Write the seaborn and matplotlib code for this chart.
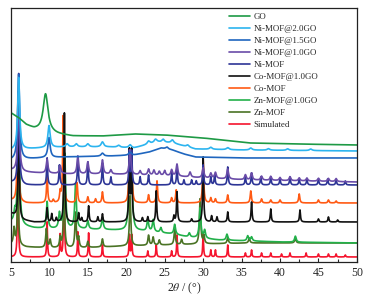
import numpy as np
import pandas as pd
import seaborn as sns
import matplotlib.pyplot as plt
from matplotlib.ticker import MultipleLocator

# XRD patterns (intensity in arbitrary stacked units)
# background anchor points: (2theta, level); peaks: (2theta, height[, fwhm])
go_bg = [(5, 149), (6, 144), (7, 137), (8, 133), (9, 131), (11, 128), (13, 126), (17, 126),
         (21, 128), (25, 127), (30, 124), (36, 119), (42, 118), (50, 117)]
go_peaks = [(9.5, 38, 0.75)]

ni20_bg = [(5, 112), (9, 114), (12, 115), (18, 115), (21, 114), (22.5, 117), (24, 120), (26, 119),
           (27.5, 116), (29, 113), (35, 112), (50, 111)]
ni20_peaks = [(6.0, 72, 0.3), (9.95, 22, 0.35), (12.3, 3), (13.5, 3), (15.0, 3), (16.9, 5), (19.0, 2),
              (20.5, 3), (22.9, 3), (23.8, 3), (24.8, 3), (26.0, 3), (28.0, 2), (31.0, 2), (33.2, 2),
              (36.2, 2), (38.5, 1.5), (41.0, 1.5), (44.0, 1.5)]

ni15_bg = [(5, 102), (9, 104), (12, 105), (18, 106), (21, 107), (23, 110), (24.5, 114), (26, 112),
           (27.5, 108), (29, 105), (35, 104), (50, 104)]
ni15_peaks = [(6.0, 85, 0.3), (9.95, 20, 0.35), (16.9, 3), (20.5, 3), (25.3, 2)]

ni10_bg = [(5, 92), (6.5, 90), (9, 89), (13, 88), (18, 88), (22, 87), (26, 86), (30, 84), (36, 82), (50, 80)]
ni10_peaks = [(6.0, 80), (9.7, 14), (11.4, 8), (13.7, 18), (15.0, 12), (16.9, 14), (18.0, 4), (20.5, 25),
              (21.8, 4), (22.9, 6), (23.6, 5), (24.3, 4), (25.0, 5), (25.9, 6), (26.6, 12), (28.3, 5),
              (30.0, 10), (31.0, 5), (31.6, 6), (33.2, 10), (35.5, 5), (36.3, 7), (37.6, 4), (38.8, 4),
              (40.0, 3), (41.3, 4), (42.5, 3), (43.5, 3), (45.0, 3), (46.3, 3), (47.3, 3)]

nimof_bg = [(5, 80), (7, 77), (50, 77)]
nimof_peaks = [(6.0, 110, 0.2), (9.7, 27), (11.3, 20), (13.7, 28), (15.0, 23), (16.9, 22), (18.0, 8),
               (20.4, 33), (20.7, 33), (21.8, 8), (22.9, 10), (25.9, 12), (26.6, 18), (27.5, 5), (28.5, 5),
               (29.1, 4), (30.0, 20), (31.0, 8), (31.5, 10), (33.2, 18), (35.5, 8), (36.3, 12), (37.5, 8),
               (38.8, 8), (40.0, 6), (41.3, 8), (42.5, 6), (43.5, 6), (45.0, 6), (46.2, 6), (47.3, 5),
               (48.5, 4)]

co10_bg = [(5, 49), (6.5, 42), (8, 40), (50, 40)]
co10_peaks = [(6.0, 120), (9.7, 14), (10.3, 8), (10.9, 4), (11.95, 109), (13.8, 9), (14.2, 4), (15.1, 16),
              (16.3, 5), (16.9, 8), (20.4, 70), (20.7, 70), (22.1, 4), (22.8, 5), (23.9, 31), (26.2, 6),
              (26.6, 30), (28.5, 3), (30.0, 65), (31.1, 6), (31.8, 5), (33.2, 10), (36.3, 20), (38.8, 13),
              (42.6, 12), (45.0, 3), (46.3, 5), (47.5, 2)]

comof_bg = [(5, 62), (7, 59), (50, 59)]
comof_peaks = [(5.9, 110), (9.7, 26), (10.5, 3), (11.4, 10), (11.8, 87), (13.6, 20), (15.0, 6), (16.0, 4),
               (16.9, 11), (20.4, 45), (20.7, 45), (22.9, 8), (24.0, 22), (25.9, 5), (26.5, 13), (30.0, 45),
               (31.0, 5), (31.6, 4), (33.2, 8), (36.2, 12), (37.6, 4), (38.8, 3), (40.0, 3), (42.5, 9),
               (45.0, 3), (46.3, 3), (47.3, 2)]

zn10_bg = [(5, 40), (6.5, 36), (8, 34), (10, 33), (14, 33), (18, 32), (22, 31), (26, 28), (28, 25),
           (32, 22), (40, 20), (50, 19)]
zn10_peaks = [(5.5, 10), (6.0, 130), (9.7, 27), (11.3, 15), (12.0, 75), (13.4, 45), (15.0, 8), (16.9, 12),
              (20.4, 60), (20.7, 60), (22.8, 12), (23.5, 12), (24.5, 5), (26.3, 10), (28.2, 4), (29.6, 30),
              (30.2, 8), (33.1, 6), (35.8, 5), (36.3, 4), (42.0, 6)]

znmof_bg = [(5, 18), (7, 15), (10, 14), (14, 14), (20, 16), (25, 17), (30, 18), (36, 19), (50, 19)]
znmof_peaks = [(5.4, 16), (5.9, 60), (9.6, 19), (10.1, 8), (11.4, 10), (11.9, 60), (13.4, 35), (13.8, 10),
               (15.0, 6), (16.9, 8), (20.5, 50), (22.9, 10), (23.5, 8), (24.3, 5), (26.3, 15), (27.2, 5),
               (29.6, 45), (30.1, 8), (33.2, 6), (36.0, 5), (42.0, 5)]

sim_bg = [(5, 5), (50, 5)]
sim_peaks = [(5.9, 120), (9.7, 35), (11.4, 22), (11.9, 100), (13.7, 25), (15.1, 24), (16.9, 12), (20.4, 22),
             (20.7, 22), (22.8, 6), (23.9, 12), (25.9, 6), (26.6, 22), (30.0, 24), (31.0, 7), (31.6, 7),
             (33.2, 12), (35.5, 4), (36.3, 7), (37.6, 4), (38.8, 4), (40.2, 3), (41.3, 4), (43.4, 4),
             (45.0, 3), (46.3, 3), (47.3, 3), (48.5, 2)]

labels = ['GO', 'Ni-MOF@2.0GO', 'Ni-MOF@1.5GO', 'Ni-MOF@1.0GO', 'Ni-MOF',
          'Co-MOF@1.0GO', 'Co-MOF', 'Zn-MOF@1.0GO', 'Zn-MOF', 'Simulated']
colors = ['#1e9a45', '#2cb4ef', '#1f66bf', '#6a4ca8', '#2d3596',
          '#111111', '#ff5a14', '#22b04a', '#4a7325', '#f5142d']
series = [(go_bg, go_peaks, 0.4), (ni20_bg, ni20_peaks, 0.4), (ni15_bg, ni15_peaks, 0.4),
          (ni10_bg, ni10_peaks, 0.25), (nimof_bg, nimof_peaks, 0.15), (co10_bg, co10_peaks, 0.15),
          (comof_bg, comof_peaks, 0.18), (zn10_bg, zn10_peaks, 0.25), (znmof_bg, znmof_peaks, 0.2),
          (sim_bg, sim_peaks, 0.12)]

tt = np.arange(5, 50.001, 0.01)


def pattern(bg, peaks, w):
    y = np.interp(tt, [b[0] for b in bg], [b[1] for b in bg])
    for p in peaks:
        fw = p[2] if len(p) > 2 else w
        y = y + p[1] / (1 + ((tt - p[0]) / (fw / 2)) ** 2)
    return y


sns.set_style('ticks')
plt.rcParams['font.family'] = ['Liberation Serif', 'DejaVu Serif']
plt.rcParams['mathtext.fontset'] = 'stix'

fig = plt.figure(figsize=(3.66, 2.96), dpi=100)
ax = fig.add_axes([0.030, 0.115, 0.945, 0.858])

# draw bottom trace first so upper traces sit on top
for lab, col, (bg, pk, w) in reversed(list(zip(labels, colors, series))):
    df = pd.DataFrame({'2theta': tt, 'I': pattern(bg, pk, w)})
    sns.lineplot(data=df, x='2theta', y='I', color=col, lw=1.2, label=lab, ax=ax,
                 estimator=None, sort=False)

ax.set_xlim(5, 50)
ax.set_ylim(0, 254)
ax.set_yticks([])
ax.xaxis.set_major_locator(MultipleLocator(5))
ax.xaxis.set_minor_locator(MultipleLocator(2.5))
ax.tick_params(axis='x', which='major', direction='in', length=3, width=0.8, labelsize=8.5, pad=3.5)
ax.tick_params(axis='x', which='minor', direction='in', length=2, width=0.8)
ax.set_xlabel(r'2$\theta$ / (°)', fontsize=8.5, labelpad=1.5)
ax.set_ylabel('')
for s in ax.spines.values():
    s.set_linewidth(0.9)
    s.set_color('#222222')

h, l = ax.get_legend_handles_labels()
ax.legend(h[::-1], l[::-1], loc='upper left', bbox_to_anchor=(0.63, 0.98), frameon=False,
          fontsize=6.4, labelspacing=0.42, handlelength=2.4, handletextpad=0.35,
          borderpad=0, borderaxespad=0)

fig.savefig('out.png', dpi=100, facecolor='white')
